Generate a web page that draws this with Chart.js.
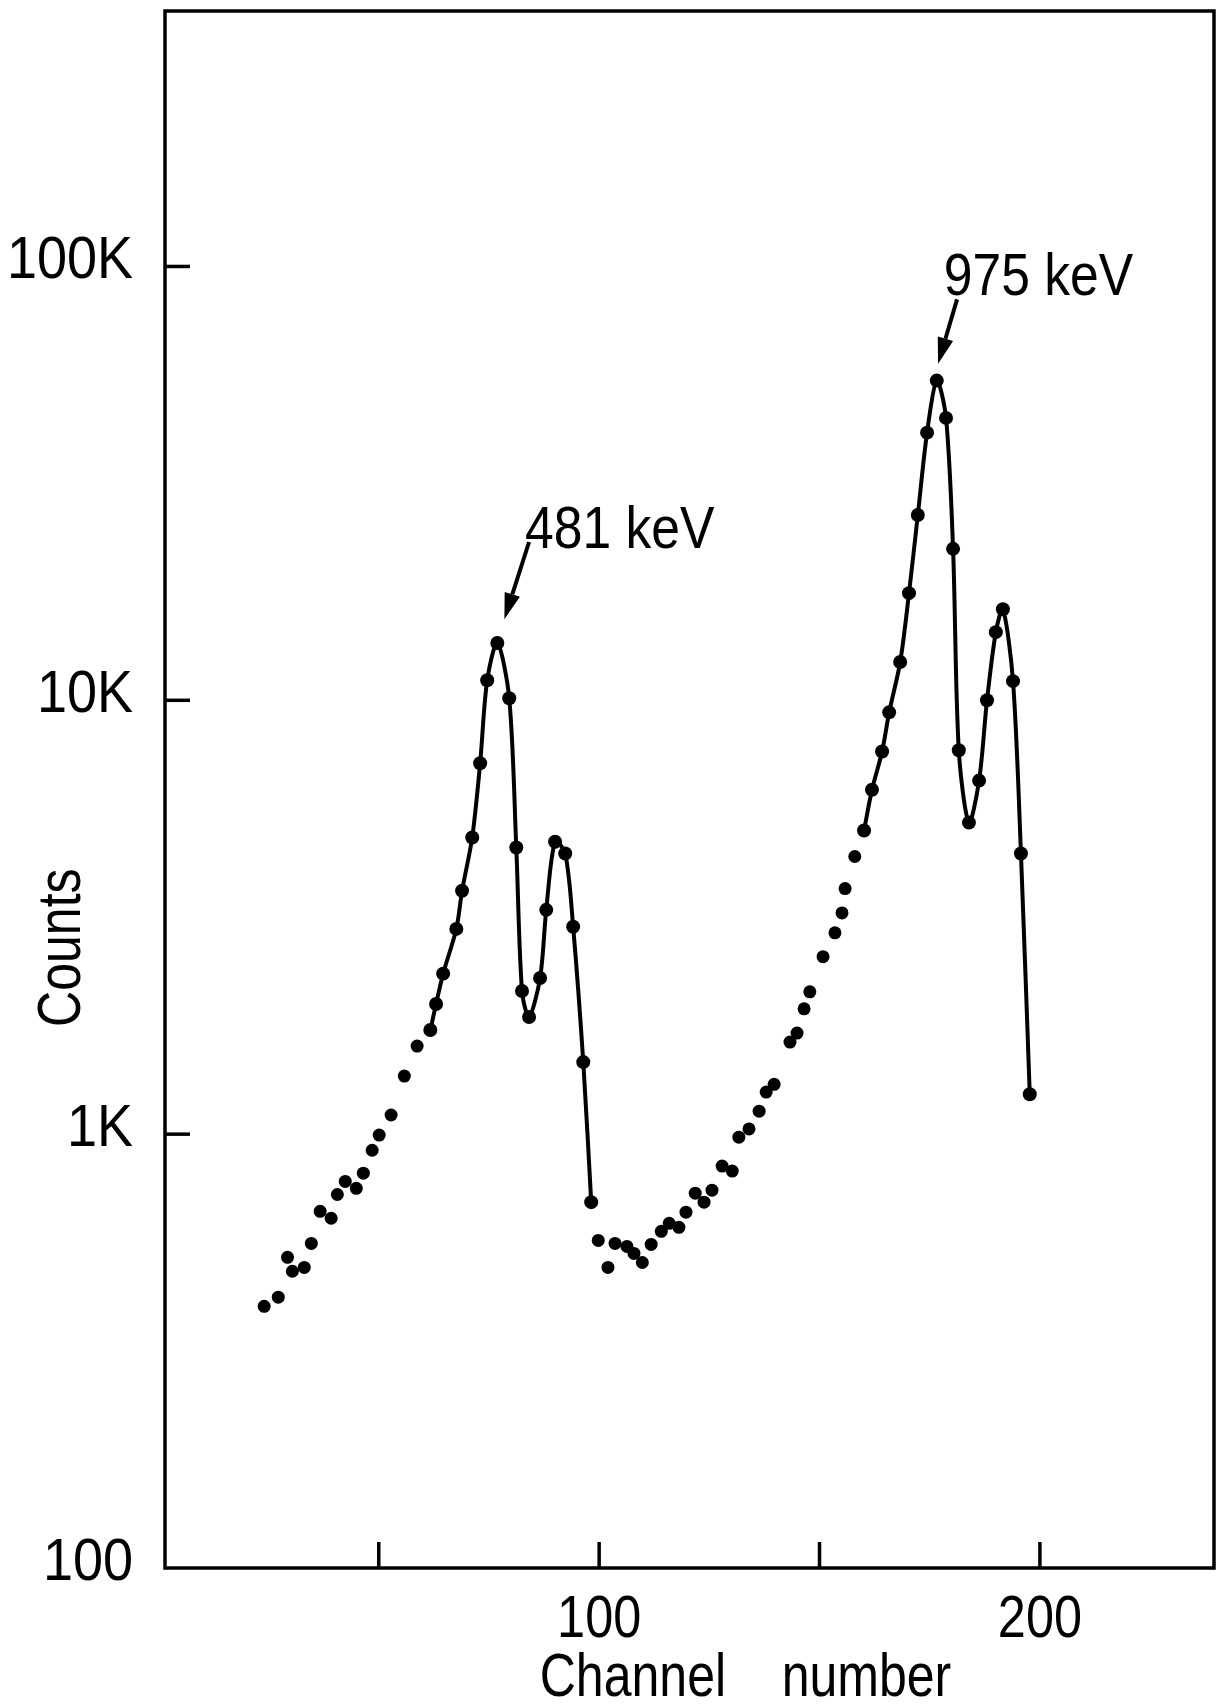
<!DOCTYPE html>
<html>
<head>
<meta charset="utf-8">
<script src="https://cdn.jsdelivr.net/npm/chart.js@4/dist/chart.umd.min.js"></script>
<style>
  html, body { margin: 0; padding: 0; background: #fff; }
  canvas { display: block; }
</style>
</head>
<body>
<canvas id="myChart" width="1222" height="1704"></canvas>
<script>
const ctx = document.getElementById('myChart');
const ink = '#000';
const fontFamily = '"Liberation Sans", Arial, sans-serif';

// left tail, dots only
const tailLeftChannels = [24.0, 27.2, 29.3, 30.4, 33.1, 34.7, 36.7, 39.2, 40.6, 42.4, 44.9, 46.5, 48.5, 50.1, 52.8, 55.8, 58.7];
const tailLeftCounts = [401, 421, 520, 483, 493, 560, 664, 640, 726, 778, 750, 813, 918, 995, 1107, 1361, 1596];

// 481 keV peak, joined by a curve
const peak1Channels = [61.7, 63.0, 64.6, 67.6, 68.9, 71.2, 73.0, 74.6, 76.9, 79.6, 81.2, 82.5, 84.1, 86.6, 88.0, 90.0, 92.3, 94.1, 96.4, 98.2];
const peak1Counts = [1738, 1995, 2344, 2972, 3639, 4830, 7160, 11120, 13550, 10110, 4580, 2138, 1862, 2291, 3289, 4722, 4436, 3006, 1466, 697];

// valley between the peaks, dots only
const gapChannels = [99.8, 102.0, 103.6, 106.3, 107.9, 109.8, 111.8, 114.1, 115.9, 118.1, 119.7, 121.8, 123.8, 125.6, 127.9, 130.2, 131.7, 134.0, 136.3, 137.9, 139.7, 143.3, 144.9, 146.5, 147.8, 150.8, 153.5, 155.1, 155.8, 158.0];
const gapCounts = [569, 493, 560, 551, 531, 506, 557, 597, 623, 610, 661, 731, 697, 743, 844, 822, 984, 1028, 1130, 1250, 1303, 1630, 1710, 1945, 2128, 2565, 2911, 3236, 3681, 4365];

// 975 keV peak, joined by a curve
const peak2Channels = [160.1, 161.9, 164.2, 165.8, 168.3, 170.3, 172.3, 174.4, 176.6, 178.7, 180.3, 181.6, 183.9, 186.2, 188.0, 190.0, 191.6, 193.9, 195.7, 197.7];
const peak2Counts = [5012, 6223, 7620, 9380, 12250, 17660, 26730, 41400, 54560, 44770, 22340, 7670, 5226, 6530, 10000, 14360, 16220, 11070, 4436, 1236];

const xTickValues = [50, 100, 150, 200];
const xTickLabels = ['', '100', '', '200'];
const yTickValues = [100, 1000, 10000, 100000];
const yTickLabels = ['100', '1K', '10K', '100K'];
const xTitle = 'Channel    number';
const yTitle = 'Counts';

const peakLabels = ['481 keV', '975 keV'];
const peakLabelAt = [[83.2, 22440], [178.2, 86100]];
const arrowFrom = [[84.1, 23170], [181.2, 83950]];
const arrowTo = [[78.5, 15380], [176.9, 59700]];

function toPoints(xs, ys) {
    return xs.map((v, i) => ({ x: v, y: ys[i] }));
}

function dotSet(xs, ys) {
    return {
        data: toPoints(xs, ys),
        showLine: false,
        pointRadius: 6.5,
        pointBackgroundColor: ink,
        pointBorderColor: ink,
        pointBorderWidth: 0
    };
}

function curveSet(xs, ys) {
    return {
        data: toPoints(xs, ys),
        showLine: true,
        tension: 0.3,
        borderColor: ink,
        borderWidth: 4,
        pointRadius: 7,
        pointBackgroundColor: ink,
        pointBorderColor: ink,
        pointBorderWidth: 0
    };
}

// the hand lettering is tall and narrow, so squeeze it sideways
function drawText(c, text, x, y, align, squeeze) {
    c.save();
    c.translate(x, y);
    c.scale(squeeze, 1);
    c.textAlign = align;
    c.fillText(text, 0, 0);
    c.restore();
}

function drawArrow(c, x1, y1, x2, y2) {
    const ang = Math.atan2(y2 - y1, x2 - x1);
    const headLen = 26, headW = 8;
    const bx = x2 - headLen * Math.cos(ang);
    const by = y2 - headLen * Math.sin(ang);
    c.lineWidth = 4;
    c.beginPath();
    c.moveTo(x1, y1);
    c.lineTo(bx, by);
    c.stroke();
    c.beginPath();
    c.moveTo(x2, y2);
    c.lineTo(bx + headW * Math.sin(ang), by - headW * Math.cos(ang));
    c.lineTo(bx - headW * Math.sin(ang), by + headW * Math.cos(ang));
    c.closePath();
    c.fill();
}

const extras = {
    id: 'extras',
    afterDraw(chart) {
        const c = chart.ctx;
        const a = chart.chartArea;
        const x = chart.scales.x;
        const y = chart.scales.y;
        c.save();
        c.strokeStyle = ink;
        c.fillStyle = ink;

        // frame
        c.lineWidth = 3.5;
        c.strokeRect(a.left, a.top, a.right - a.left, a.bottom - a.top);

        // inward tick marks
        xTickValues.forEach(v => {
            const px = x.getPixelForValue(v);
            c.beginPath();
            c.moveTo(px, a.bottom);
            c.lineTo(px, a.bottom - 26);
            c.stroke();
        });
        yTickValues.forEach(v => {
            const py = y.getPixelForValue(v);
            if (py > a.bottom - 3) return;
            c.beginPath();
            c.moveTo(a.left, py);
            c.lineTo(a.left + 25, py);
            c.stroke();
        });

        c.font = '60px ' + fontFamily;
        c.textBaseline = 'alphabetic';

        // tick labels
        yTickValues.forEach((v, i) => {
            drawText(c, yTickLabels[i], a.left - 32, y.getPixelForValue(v) + 12, 'right', 0.9);
        });
        xTickValues.forEach((v, i) => {
            if (xTickLabels[i]) drawText(c, xTickLabels[i], x.getPixelForValue(v), a.bottom + 69, 'center', 0.84);
        });

        // axis titles
        c.font = '61px ' + fontFamily;
        drawText(c, xTitle, (a.left + a.right) / 2 + 56, chart.height - 8, 'center', 0.82);

        c.save();
        c.translate(80, y.getPixelForValue(2690));
        c.rotate(-Math.PI / 2);
        drawText(c, yTitle, 0, 0, 'center', 0.82);
        c.restore();

        // peak labels and arrows
        c.font = '60px ' + fontFamily;
        peakLabels.forEach((t, i) => {
            drawText(c, t, x.getPixelForValue(peakLabelAt[i][0]), y.getPixelForValue(peakLabelAt[i][1]), 'left', 0.86);
            drawArrow(c,
                x.getPixelForValue(arrowFrom[i][0]), y.getPixelForValue(arrowFrom[i][1]),
                x.getPixelForValue(arrowTo[i][0]), y.getPixelForValue(arrowTo[i][1]));
        });
        c.restore();
    }
};

new Chart(ctx, {
    type: 'scatter',
    data: {
        datasets: [
            dotSet(tailLeftChannels, tailLeftCounts),
            curveSet(peak1Channels, peak1Counts),
            dotSet(gapChannels, gapCounts),
            curveSet(peak2Channels, peak2Counts)
        ]
    },
    options: {
        responsive: false,
        animation: false,
        layout: { padding: { top: 11, right: 8, left: 0, bottom: 0 } },
        plugins: {
            legend: { display: false },
            tooltip: { enabled: false }
        },
        scales: {
            x: {
                type: 'linear',
                min: 1.5,
                max: 239.5,
                grid: { display: false, drawTicks: false },
                border: { display: false },
                ticks: { display: false },
                afterBuildTicks: s => { s.ticks = xTickValues.map(v => ({ value: v })); },
                afterFit: s => {
                    s.height = 136;
                    s.paddingLeft = 0;
                    s.paddingRight = 0;
                }
            },
            y: {
                type: 'logarithmic',
                min: 100,
                max: 388000,
                grid: { display: false, drawTicks: false },
                border: { display: false },
                ticks: { display: false },
                afterBuildTicks: s => { s.ticks = yTickValues.map(v => ({ value: v })); },
                afterFit: s => {
                    s.width = 165;
                    s.paddingTop = 0;
                    s.paddingBottom = 0;
                }
            }
        }
    },
    plugins: [extras]
});
</script>
</body>
</html>
